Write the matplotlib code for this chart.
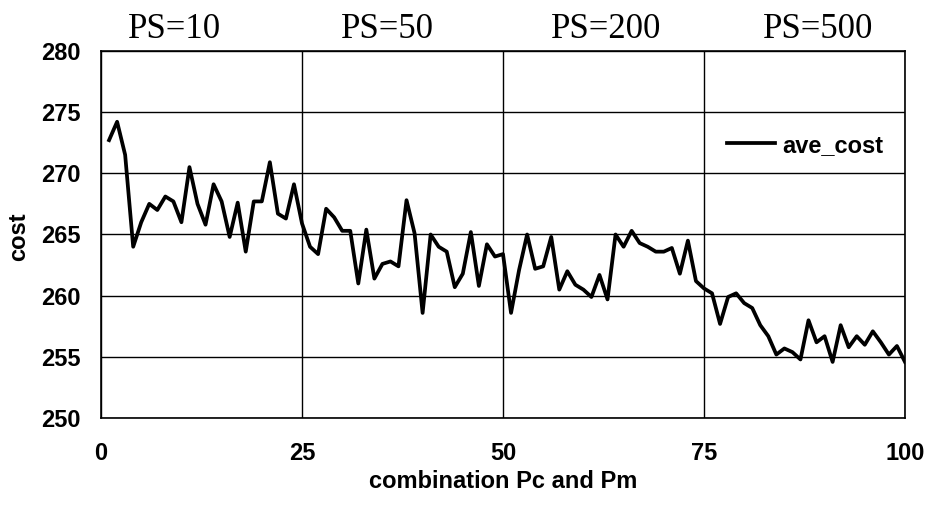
import numpy as np
import matplotlib
matplotlib.use("Agg")
import matplotlib.pyplot as plt

# ave_cost for each Pc/Pm combination (1..100)
combo = np.arange(1, 101)
ave_cost = [
    272.7, 274.2, 271.5, 264.0, 266.0, 267.5, 267.0, 268.1, 267.7, 266.0,
    270.5, 267.5, 265.8, 269.1, 267.7, 264.8, 267.6, 263.6, 267.7, 267.7,
    270.9, 266.7, 266.3, 269.1, 265.9, 264.0, 263.4, 267.1, 266.4, 265.3,
    265.3, 261.0, 265.4, 261.4, 262.6, 262.8, 262.4, 267.8, 265.1, 258.6,
    265.0, 264.0, 263.6, 260.7, 261.8, 265.2, 260.8, 264.2, 263.2, 263.4,
    258.6, 262.1, 265.0, 262.2, 262.4, 264.8, 260.5, 262.0, 260.9, 260.5,
    259.9, 261.7, 259.7, 265.0, 264.0, 265.3, 264.3, 264.0, 263.6, 263.6,
    263.9, 261.8, 264.5, 261.2, 260.6, 260.2, 257.7, 259.9, 260.2, 259.4,
    259.0, 257.6, 256.7, 255.2, 255.7, 255.4, 254.8, 258.0, 256.2, 256.7,
    254.6, 257.6, 255.8, 256.7, 256.0, 257.1, 256.2, 255.2, 255.9, 254.6,
]
ps_labels = ["PS=10", "PS=50", "PS=200", "PS=500"]
ps_pos = [9.2, 35.6, 62.8, 89.2]

plt.rcParams['font.family'] = ['Liberation Sans', 'DejaVu Sans']

fig = plt.figure(figsize=(9.32, 5.05), dpi=100)
ax = fig.add_axes([0.1084, 0.1717, 0.8626, 0.7279])

ax.plot(combo, ave_cost, color='black', lw=2.7, label='ave_cost')

ax.set_xlim(0, 100)
ax.set_ylim(250, 280)
ax.set_xticks([0, 25, 50, 75, 100])
ax.set_yticks(np.arange(250, 281, 5))
ax.grid(True, color='black', lw=1.0)
ax.tick_params(axis='y', length=0, labelsize=17, pad=15)
ax.tick_params(axis='x', length=0, labelsize=17, pad=17)
for lab in ax.get_xticklabels() + ax.get_yticklabels():
    lab.set_fontweight('bold')
for s in ax.spines.values():
    s.set_linewidth(1.2)

ax.set_xlabel("combination Pc and Pm", fontsize=17, fontweight='bold', va='center')
ax.xaxis.set_label_coords(0.5, -0.173)
ax.set_ylabel("cost", fontsize=17, fontweight='bold', va='center')
ax.yaxis.set_label_coords(-0.103, 0.493)

for lab, xp in zip(ps_labels, ps_pos):
    ax.text(xp, 281.7, lab, ha='center', va='center', fontsize=25,
            family='Liberation Serif')

ax.legend(loc='center left', bbox_to_anchor=(0.779, 0.743), frameon=False,
          borderpad=0, borderaxespad=0, handlelength=2.0, handletextpad=0.34,
          prop={'size': 17, 'weight': 'bold'})

fig.savefig("out.png", dpi=100)
